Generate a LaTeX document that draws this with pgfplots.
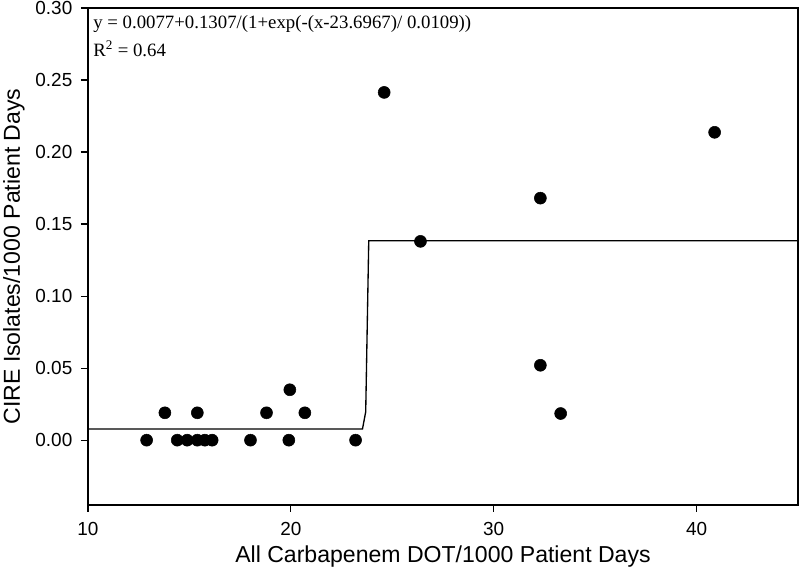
\documentclass[border=0pt]{standalone}
\usepackage{fontspec}
\setmainfont{Liberation Sans}
\newfontfamily\timesfont{Liberation Serif}
\usepackage{pgfplots}
\pgfplotsset{compat=1.18}
\begin{document}
\begin{tikzpicture}
\path[use as bounding box] (-66pt,-57pt) rectangle (534pt,378.75pt);
\begin{axis}[
  at={(0,0)}, anchor=south west,
  scale only axis=true,
  width=532.5pt, height=372.75pt,
  xmin=10, xmax=45, ymin=-0.045, ymax=0.30,
  xtick={10,20,30,40},
  ytick={0,0.05,0.10,0.15,0.20,0.25,0.30},
  yticklabel style={xshift=-3pt,/pgf/number format/.cd,fixed,fixed zerofill,precision=2},
  /pgf/number format/assume math mode=true,
  axis line style={line width=1pt,-},
  xtick pos=left, ytick pos=left,
  tick align=outside,
  tick style={line width=0.9pt,black},
  major tick length=5.25pt,
  tick label style={font=\fontsize{14.2}{16}\selectfont},
  xticklabel style={yshift=-4.5pt},
  label style={font=\fontsize{17.3}{20}\selectfont},
  xlabel={All Carbapenem DOT/1000 Patient Days},
  ylabel={CIRE Isolates/1000 Patient Days},
  xlabel style={at={(axis description cs:0.5,0)},anchor=center,yshift=-39pt},
  ylabel style={at={(axis description cs:0,0.5)},anchor=center,yshift=55.5pt},
  clip=true,
]
\addplot[black, line width=1pt, no marks] coordinates {
(10,0.0077) (23.53,0.0077) (23.69,0.0197) (23.84,0.1384) (45,0.1384)};
\addplot[only marks, mark=*, mark size=4.5pt, mark options={fill=black,draw=black}] coordinates {
(12.89,0) (13.79,0.019) (14.40,0) (14.89,0) (15.39,0.019) (15.39,0)
(15.76,0) (16.12,0) (18.01,0) (18.80,0.019) (19.95,0.035) (19.90,0)
(20.69,0.019) (23.19,0) (24.60,0.2414) (26.39,0.138) (32.30,0.168)
(32.30,0.052) (33.30,0.0185) (40.89,0.2137)};
\node[anchor=base west, inner sep=0pt, font=\timesfont\fontsize{14.1}{16}\selectfont]
  at (axis description cs:0,1) [xshift=3.75pt,yshift=-15.2pt] {y = 0.0077+0.1307/(1+exp(-(x-23.6967)/ 0.0109))};
\node[anchor=base west, inner sep=0pt, font=\timesfont\fontsize{14.1}{16}\selectfont]
  at (axis description cs:0,1) [xshift=3.75pt,yshift=-36.5pt] {R\textsuperscript{2} = 0.64};
\end{axis}
\end{tikzpicture}
\end{document}
